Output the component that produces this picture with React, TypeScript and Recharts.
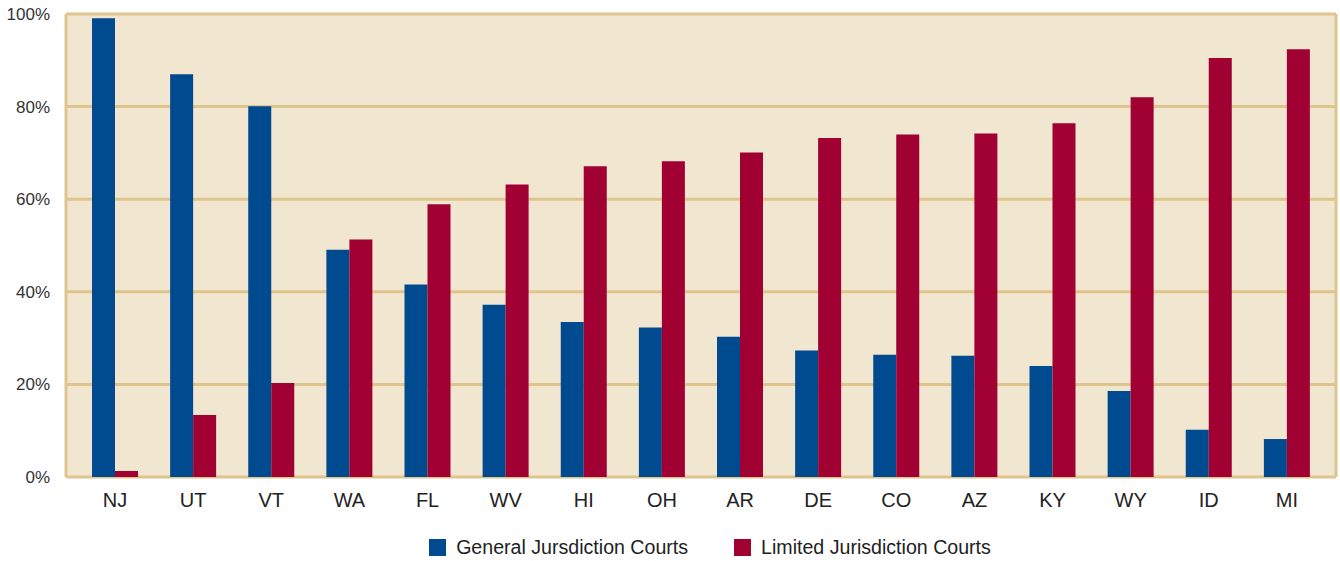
import { BarChart, Bar, XAxis, YAxis, CartesianGrid, Legend } from "recharts";

const states = ["NJ", "UT", "VT", "WA", "FL", "WV", "HI", "OH", "AR", "DE", "CO", "AZ", "KY", "WY", "ID", "MI"];
const generalCourts = [99.1, 87.0, 80.1, 49.1, 41.6, 37.2, 33.5, 32.3, 30.3, 27.3, 26.4, 26.2, 24.0, 18.6, 10.2, 8.2];
const limitedCourts = [1.3, 13.4, 20.3, 51.3, 58.9, 63.2, 67.1, 68.2, 70.1, 73.2, 74.0, 74.2, 76.4, 82.0, 90.5, 92.4];
const yTicks = [0, 20, 40, 60, 80, 100];

const BLUE = "#004a8f";
const RED = "#a10033";
const TAN = "#dfc48d";
const FONT = "'Liberation Sans', Arial, sans-serif";

const data = states.map((state, i) => ({
  state,
  general: generalCourts[i],
  limited: limitedCourts[i],
}));

function LegendContent() {
  const items = [
    { label: "General Jursdiction Courts", color: BLUE },
    { label: "Limited Jurisdiction Courts", color: RED },
  ];
  return (
    <div style={{ display: "flex", justifyContent: "center", gap: 46, fontFamily: FONT, fontSize: 19.6, color: "#222", paddingLeft: 84 }}>
      {items.map((it) => (
        <div key={it.label} style={{ display: "flex", alignItems: "center" }}>
          <span style={{ display: "inline-block", width: 17, height: 17, background: it.color, marginRight: 10 }} />
          <span>{it.label}</span>
        </div>
      ))}
    </div>
  );
}

export default function App() {
  return (
    <div style={{ position: "absolute", left: 0, top: 0, background: "#fff" }}>
      <BarChart
        width={1340}
        height={561}
        data={data}
        margin={{ top: 14, right: 4, left: 0, bottom: 0 }}
        barGap={0}
        barSize={23}
      >
        <CartesianGrid
          fill="#f1e6d0"
          stroke={TAN}
          strokeWidth={3}
          verticalCoordinatesGenerator={({ offset }: any) => [offset.left, offset.left + offset.width]}
        />
        <XAxis
          dataKey="state"
          axisLine={false}
          tickLine={false}
          padding={{ left: 10, right: 10 }}
          height={61}
          tickMargin={10}
          tick={{ fontSize: 20, fill: "#222", fontFamily: FONT }}
        />
        <YAxis
          domain={[0, 100]}
          ticks={yTicks}
          tickFormatter={(v: number) => `${v}%`}
          axisLine={false}
          tickLine={false}
          width={66}
          tickMargin={10}
          tick={{ fontSize: 17, fill: "#333", fontFamily: FONT }}
        />
        <Legend verticalAlign="bottom" content={<LegendContent />} wrapperStyle={{ bottom: 2 }} />
        <Bar dataKey="general" name="General Jursdiction Courts" fill={BLUE} isAnimationActive={false} />
        <Bar dataKey="limited" name="Limited Jurisdiction Courts" fill={RED} isAnimationActive={false} />
      </BarChart>
    </div>
  );
}
